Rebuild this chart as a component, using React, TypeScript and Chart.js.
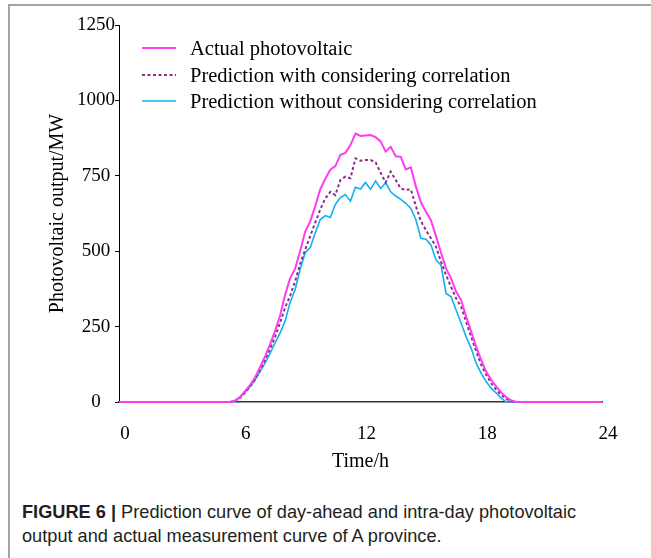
import React, { useEffect, useRef } from "react";
import { Chart, registerables } from "chart.js";

Chart.register(...registerables);

// Time of day (h), 15-min resolution during daylight
const HOURS = [0, 5.25, 5.5, 5.75, 6, 6.25, 6.5, 6.75, 7, 7.25, 7.5, 7.75, 8, 8.25, 8.5, 8.75, 9, 9.25, 9.5, 9.75, 10, 10.25, 10.5, 10.75, 11, 11.25, 11.5, 11.75, 12, 12.25, 12.5, 12.75, 13, 13.25, 13.5, 13.75, 14, 14.25, 14.5, 14.75, 15, 15.25, 15.5, 15.75, 16, 16.25, 16.5, 16.75, 17, 17.25, 17.5, 17.75, 18, 18.25, 18.5, 18.75, 19, 19.25, 19.5, 19.75, 20, 24];

const ACTUAL = [0, 0, 0, 3, 15, 35, 55, 80, 115, 150, 190, 235, 285, 355, 410, 442, 500, 565, 598, 650, 705, 740, 770, 782, 820, 826, 852, 890, 882, 884, 885, 878, 864, 830, 846, 815, 813, 771, 778, 715, 662, 631, 603, 550, 495, 443, 410, 366, 338, 283, 233, 183, 139, 100, 73, 51, 31, 15, 5, 0, 0, 0];

const PRED_CORR = [0, 0, 0, 2, 13, 30, 50, 74, 105, 138, 175, 215, 262, 312, 352, 400, 458, 505, 550, 595, 638, 675, 697, 686, 736, 747, 742, 808, 800, 802, 802, 795, 760, 728, 764, 736, 708, 703, 705, 650, 600, 570, 543, 515, 465, 421, 382, 344, 316, 266, 216, 167, 123, 90, 62, 40, 23, 10, 2, 0, 0, 0];

const PRED_NO_CORR = [0, 0, 0, 5, 16, 32, 50, 72, 100, 128, 160, 195, 228, 268, 330, 372, 440, 495, 512, 560, 605, 618, 612, 655, 678, 688, 666, 712, 706, 728, 705, 733, 708, 727, 697, 683, 672, 659, 642, 605, 543, 540, 521, 471, 454, 360, 349, 305, 261, 216, 178, 128, 95, 67, 45, 29, 12, 0, 0, 0, 0, 0];

const X_TICKS = [0, 6, 12, 18, 24];
const Y_TICKS = [0, 250, 500, 750, 1000, 1250];

const SERIES_LABELS = [
  "Actual photovoltaic",
  "Prediction with considering correlation",
  "Prediction without considering correlation",
];
const SERIES_COLORS = ["#ff3cf0", "#8b2f8b", "#12b0ef"];
const SERIES_WIDTHS = [2, 2, 1.6];
const SERIES_DASH: number[][] = [[], [3, 2.5], []];

const X_TITLE = "Time/h";
const Y_TITLE = "Photovoltaic output/MW";
const CAPTION_BOLD = "FIGURE 6 |";
const CAPTION_LINE1 = " Prediction curve of day-ahead and intra-day photovoltaic";
const CAPTION_LINE2 = "output and actual measurement curve of A province.";

const SERIF = "'Liberation Serif', 'Times New Roman', serif";
const SANS = "'Liberation Sans', Arial, Helvetica, sans-serif";

export default function App() {
  const canvasRef = useRef<HTMLCanvasElement | null>(null);

  useEffect(() => {
    const canvas = canvasRef.current;
    if (!canvas) return;
    const seriesValues = [ACTUAL, PRED_CORR, PRED_NO_CORR];
    const chart = new Chart(canvas, {
      type: "line",
      data: {
        datasets: seriesValues.map((vals, i) => ({
          label: SERIES_LABELS[i],
          data: HOURS.map((h, j) => ({ x: h, y: vals[j] })),
          borderColor: SERIES_COLORS[i],
          backgroundColor: SERIES_COLORS[i],
          borderWidth: SERIES_WIDTHS[i],
          borderDash: SERIES_DASH[i],
          pointRadius: 0,
          tension: 0,
          fill: false,
          clip: 4,
          order: i,
        })),
      },
      options: {
        responsive: false,
        animation: false,
        devicePixelRatio: 1,
        layout: { padding: { top: 25, right: 49, bottom: 3, left: 0 } },
        plugins: {
          legend: { display: false },
          tooltip: { enabled: false },
        },
        scales: {
          x: {
            type: "linear",
            min: 0,
            max: 24,
            afterBuildTicks: (axis: any) => {
              axis.ticks = X_TICKS.map((v) => ({ value: v }));
            },
            afterFit: (axis: any) => {
              axis.height = 75;
            },
            ticks: {
              color: "#000",
              font: { family: SERIF, size: 19 },
              padding: 13,
              labelOffset: 6,
              maxRotation: 0,
              autoSkip: false,
              callback: (v: any) => String(v),
            },
            grid: { display: false },
            border: { display: true, color: "#333", width: 1.5 },
            title: {
              display: true,
              text: X_TITLE,
              color: "#000",
              font: { family: SERIF, size: 20 },
              padding: { top: 0, bottom: 3 },
            },
          },
          y: {
            type: "linear",
            min: 0,
            max: 1250,
            afterBuildTicks: (axis: any) => {
              axis.ticks = Y_TICKS.map((v) => ({ value: v }));
            },
            afterFit: (axis: any) => {
              axis.width = 119;
            },
            ticks: {
              color: "#000",
              font: { family: SERIF, size: 19 },
              padding: 0,
              crossAlign: "center",
              callback: (v: any) => String(v),
            },
            grid: {
              display: true,
              drawOnChartArea: false,
              drawTicks: true,
              tickLength: 4,
              color: "#000",
            },
            border: { display: true, color: "#000", width: 1 },
            title: {
              display: true,
              text: Y_TITLE,
              color: "#000",
              font: { family: SERIF, size: 20 },
              padding: { top: 46, bottom: 0 },
            },
          },
        },
      },
    });
    return () => chart.destroy();
  }, []);

  const legendRows = [48, 75, 101];

  return (
    <div
      style={{
        position: "absolute",
        left: 0,
        top: 0,
        width: 651,
        height: 558,
        background: "#fff",
        overflow: "hidden",
      }}
    >
      <div
        style={{
          position: "absolute",
          left: 8,
          top: 4,
          width: 700,
          height: 600,
          borderTop: "2px solid #a3a3a3",
          borderLeft: "2px solid #a3a3a3",
          boxSizing: "border-box",
        }}
      />
      <canvas
        ref={canvasRef}
        width={651}
        height={480}
        style={{ position: "absolute", left: 0, top: 0, width: 651, height: 480 }}
      />
      {SERIES_LABELS.map((label, i) => (
        <div
          key={label}
          style={{
            position: "absolute",
            left: 142,
            top: legendRows[i] - 13,
            height: 26,
            display: "flex",
            alignItems: "center",
            whiteSpace: "nowrap",
          }}
        >
          <svg width={34} height={6} style={{ display: "block" }}>
            <line
              x1={0}
              y1={3}
              x2={34}
              y2={3}
              stroke={SERIES_COLORS[i]}
              strokeWidth={SERIES_WIDTHS[i]}
              strokeDasharray={SERIES_DASH[i].length ? SERIES_DASH[i].join(",") : undefined}
            />
          </svg>
          <span
            style={{
              marginLeft: 14,
              fontFamily: SERIF,
              fontSize: 20.5,
              color: "#000",
              lineHeight: "26px",
            }}
          >
            {label}
          </span>
        </div>
      ))}
      <div
        style={{
          position: "absolute",
          left: 22,
          top: 500,
          fontFamily: SANS,
          fontSize: 18.2,
          lineHeight: "24px",
          color: "#231f20",
          whiteSpace: "nowrap",
        }}
      >
        <div>
          <b>{CAPTION_BOLD}</b>
          {CAPTION_LINE1}
        </div>
        <div>{CAPTION_LINE2}</div>
      </div>
    </div>
  );
}
